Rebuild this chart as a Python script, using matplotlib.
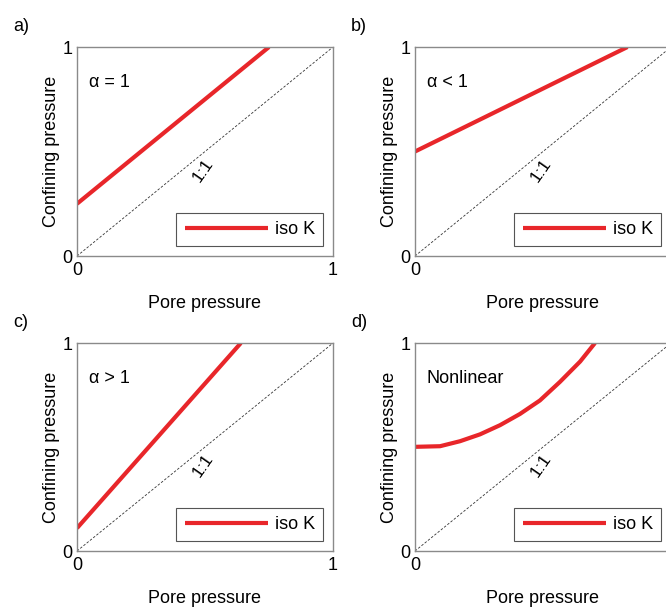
import numpy as np
import matplotlib.pyplot as plt

plt.rcParams['font.family'] = ['Liberation Sans', 'DejaVu Sans']

# panel data
panel_tags = ['a)', 'b)', 'c)', 'd)']
panel_notes = ['\u03b1 = 1', '\u03b1 < 1', '\u03b1 > 1', 'Nonlinear']

one_to_one_x = [0, 1]
one_to_one_y = [0, 1]

iso_a_x = [0.0, 0.75]
iso_a_y = [0.25, 1.0]
iso_b_x = [0.0, 0.83]
iso_b_y = [0.5, 1.0]
iso_c_x = [0.0, 0.64]
iso_c_y = [0.11, 1.0]
iso_d_x = [0.0, 0.098, 0.176, 0.254, 0.332, 0.41, 0.488, 0.566, 0.645, 0.703]
iso_d_y = [0.501, 0.504, 0.528, 0.561, 0.605, 0.659, 0.724, 0.813, 0.911, 1.0]

iso_x = [iso_a_x, iso_b_x, iso_c_x, iso_d_x]
iso_y = [iso_a_y, iso_b_y, iso_c_y, iso_d_y]

# axes boxes in figure fractions (right column runs off the canvas, like the source)
boxes = [
    [0.1156, 0.5796, 0.3844, 0.3432],
    [0.6231, 0.5796, 0.3844, 0.3432],
    [0.1156, 0.0952, 0.3844, 0.3415],
    [0.6231, 0.0952, 0.3844, 0.3415],
]

red = '#e8262a'
fig = plt.figure(figsize=(6.66, 6.09), dpi=100)

for i in range(4):
    ax = fig.add_axes(boxes[i])
    ax.plot(one_to_one_x, one_to_one_y, color='#333333', lw=0.6, ls=(0, (3, 2)))
    ax.plot(iso_x[i], iso_y[i], color=red, lw=3.0, label='iso K',
            solid_capstyle='butt', solid_joinstyle='round')
    ax.set_xlim(0, 1)
    ax.set_ylim(0, 1)
    ax.set_xticks([0, 1])
    ax.set_yticks([0, 1])
    ax.tick_params(length=0, labelsize=13, pad=4)
    ax.tick_params(axis='y', pad=3)
    if i % 2 == 1:
        # the source image is cropped through the right column
        ax.get_xticklabels()[1].set_visible(False)
    for s in ax.spines.values():
        s.set_color('#8a8a8a')
        s.set_linewidth(1.0)
    ax.set_xlabel('Pore pressure', fontsize=13, labelpad=12)
    ax.set_ylabel('Confining pressure', fontsize=13, labelpad=2)
    ax.text(0.045, 0.83, panel_notes[i], transform=ax.transAxes, fontsize=13,
            ha='left', va='center')
    ax.text(0.49, 0.41, '1:1', transform=ax.transAxes, fontsize=12.5,
            rotation=55, ha='center', va='center')
    ax.text(-0.25, 1.10, panel_tags[i], transform=ax.transAxes, fontsize=13,
            ha='left', va='center')
    leg = ax.legend(loc='lower right', fontsize=13, handlelength=4.6,
                    fancybox=False, framealpha=1, borderpad=0.45,
                    handletextpad=0.4, borderaxespad=0.55)
    leg.get_frame().set_edgecolor('#555555')
    leg.get_frame().set_linewidth(0.8)

fig.savefig('out.png', dpi=100)
